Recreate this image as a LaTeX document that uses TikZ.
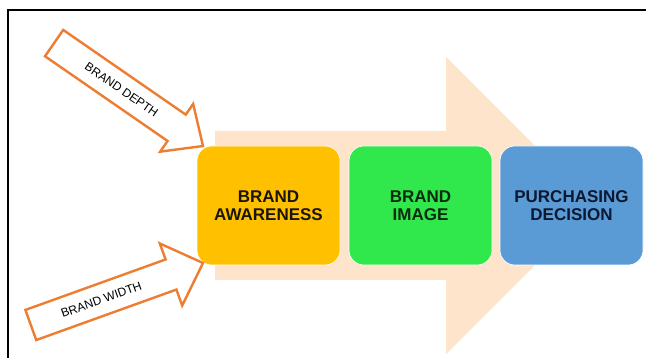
\documentclass[tikz,border=0pt]{standalone}
\usepackage{fontspec}
\setmainfont{Liberation Sans}
\definecolor{bgarrow}{HTML}{FDE4CB}
\definecolor{awareC}{HTML}{FFC000}
\definecolor{imageC}{HTML}{30E84B}
\definecolor{purchC}{HTML}{5B9BD5}
\definecolor{orangeC}{HTML}{ED7D31}
\definecolor{txtA}{HTML}{1A1505}
\definecolor{txtB}{HTML}{0A2A0E}
\definecolor{txtC}{HTML}{0B1830}
\begin{document}
\begin{tikzpicture}[x=1pt,y=-1pt,
  stagebox/.style={rounded corners=15pt, minimum width=143pt, minimum height=119pt,
    inner sep=0pt, align=center, draw=white, line width=0.6pt,
    font=\fontsize{17}{18}\selectfont\bfseries},
  sidearrow/.style={draw=orangeC, fill=white, line width=2.4pt, line join=miter},
  sidelabel/.style={font=\fontsize{12}{13}\selectfont, text=black, inner sep=0pt, transform shape}
]
\useasboundingbox (0,0) rectangle (646,358);
\fill[white] (0,0) rectangle (646,358);
% frame
\draw[line width=1.2pt] (8,358) -- (8,10) -- (646,10);
% background arrow
\fill[bgarrow] (215,131) -- (446,131) -- (446,57) -- (594.5,205.5) -- (446,354) -- (446,280) -- (215,280) -- cycle;
% stage boxes
\node[stagebox, fill=awareC, text=txtA] (aware) at (268.5,205.5) {BRAND\\AWARENESS};
\node[stagebox, fill=imageC, text=txtB] (image) at (420.5,205.5) {BRAND\\IMAGE};
\node[stagebox, fill=purchC, text=txtC] (purch) at (571.5,205.5) {PURCHASING\\DECISION};
% brand depth arrow
\begin{scope}[shift={(203,146)}, rotate=-34.65]
  \draw[sidearrow] (-181,-16) -- (-32,-16) -- (-32,-29) -- (0,0) -- (-32,29) -- (-32,16) -- (-181,16) -- cycle;
  \node[sidelabel] (depth) at (-99,0) {BRAND DEPTH};
\end{scope}
% brand width arrow
\begin{scope}[shift={(203,263)}, rotate=19.8]
  \draw[sidearrow] (-183,-16) -- (-34,-16) -- (-34,-33) -- (0,0) -- (-34,33) -- (-34,16) -- (-183,16) -- cycle;
  \node[sidelabel] (width) at (-108,0) {BRAND WIDTH};
\end{scope}
\end{tikzpicture}
\end{document}
